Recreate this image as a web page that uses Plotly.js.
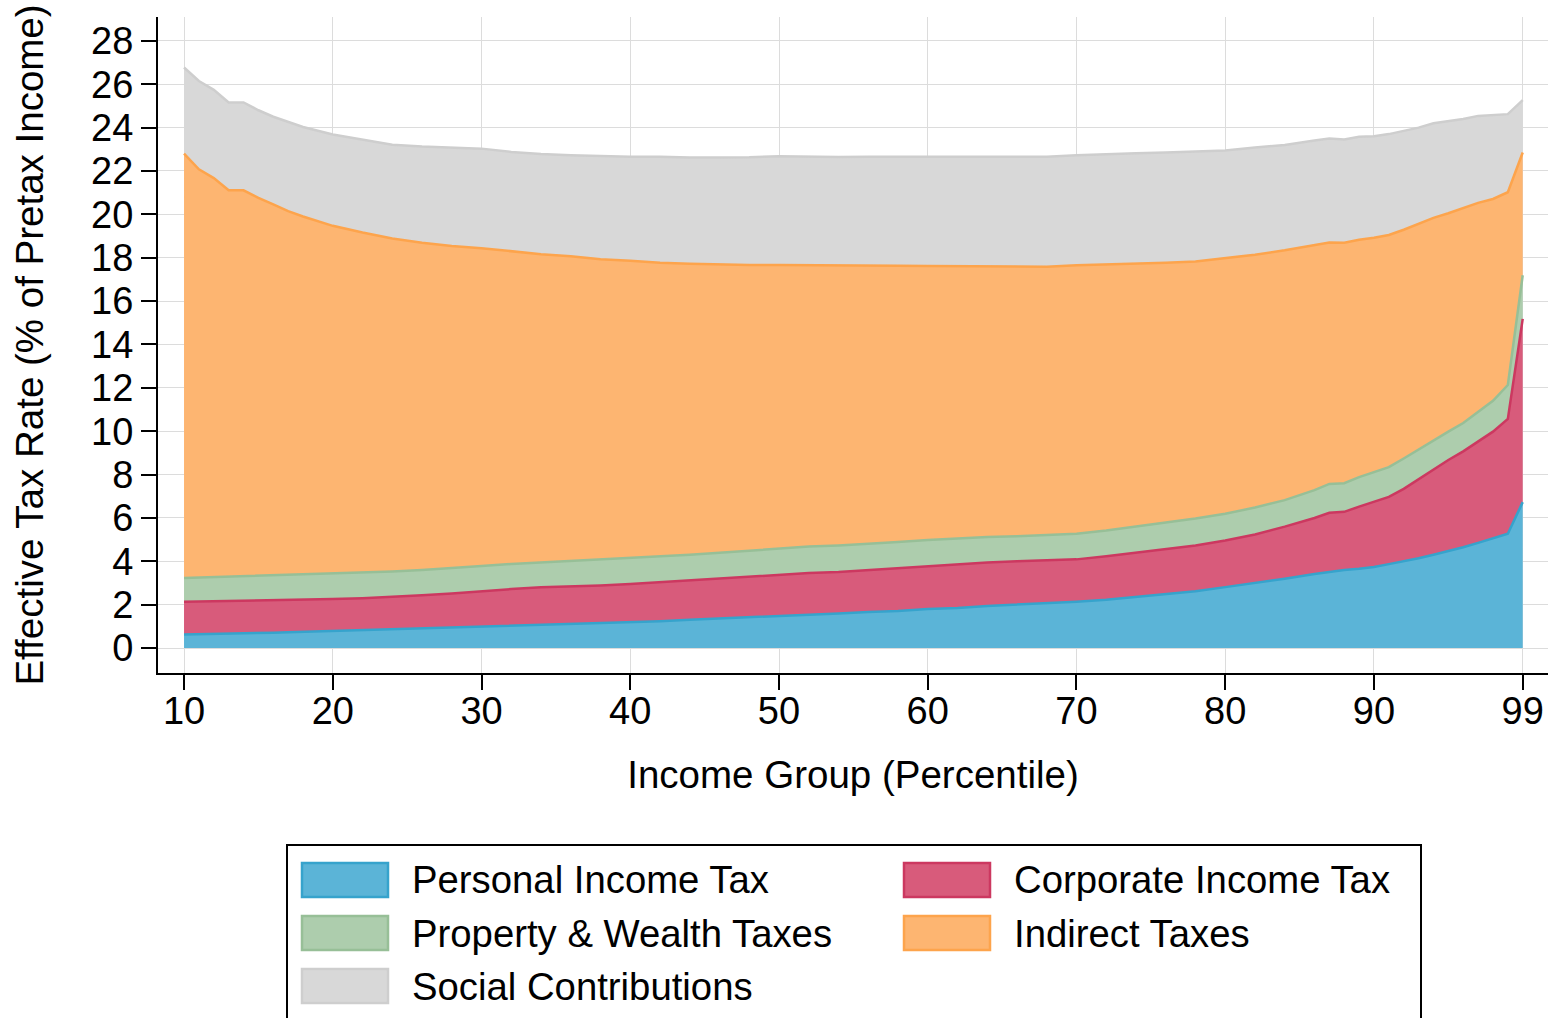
<!DOCTYPE html>
<html>
<head>
<meta charset="utf-8">
<script src="https://cdn.plot.ly/plotly-3.0.1.min.js"></script>
<style>
  html, body { margin: 0; padding: 0; background: #fff; }
  #chart { width: 1558px; height: 1018px; }
</style>
</head>
<body>
<div id="chart"></div>
<script>
// percentile position of each income group (last group drawn at the "99" tick)
const pct = [10, 11, 12, 13, 14, 15, 16, 17, 18, 20, 22, 24, 26, 28, 30, 32, 34, 36, 38, 40,
  42, 44, 46, 48, 50, 52, 54, 56, 58, 60, 62, 64, 66, 68, 70, 72, 74, 76, 78, 80,
  82, 84, 86, 87, 88, 89, 90, 91, 92, 93, 94, 95, 96, 97, 98, 99, 100];

const personalIncome = [0.62, 0.63, 0.64, 0.66, 0.67, 0.70, 0.71, 0.73, 0.75, 0.78, 0.82, 0.86, 0.90, 0.95, 1.00, 1.03, 1.06, 1.09, 1.15, 1.18,
  1.24, 1.31, 1.36, 1.41, 1.48, 1.54, 1.59, 1.66, 1.71, 1.80, 1.85, 1.94, 2.00, 2.06, 2.14, 2.23, 2.35, 2.47, 2.62, 2.81,
  2.99, 3.20, 3.42, 3.52, 3.60, 3.66, 3.74, 3.87, 4.00, 4.14, 4.30, 4.47, 4.65, 4.85, 5.05, 5.27, 6.73];

const corporateIncome = [1.52, 1.52, 1.53, 1.52, 1.52, 1.50, 1.50, 1.49, 1.49, 1.48, 1.48, 1.50, 1.54, 1.57, 1.63, 1.69, 1.74, 1.74, 1.74, 1.77,
  1.80, 1.80, 1.85, 1.89, 1.91, 1.92, 1.92, 1.94, 1.96, 1.98, 2.01, 2.01, 2.00, 1.98, 1.95, 2.00, 2.04, 2.09, 2.11, 2.15,
  2.25, 2.40, 2.58, 2.72, 2.68, 2.86, 2.99, 3.10, 3.34, 3.65, 3.95, 4.20, 4.42, 4.68, 4.93, 5.30, 8.45];

const propertyWealth = [1.09, 1.10, 1.10, 1.11, 1.11, 1.13, 1.14, 1.15, 1.16, 1.19, 1.17, 1.17, 1.16, 1.16, 1.15, 1.16, 1.15, 1.17, 1.20, 1.20,
  1.20, 1.19, 1.18, 1.18, 1.20, 1.22, 1.22, 1.20, 1.22, 1.20, 1.20, 1.17, 1.16, 1.16, 1.18, 1.19, 1.21, 1.22, 1.24, 1.23,
  1.24, 1.22, 1.28, 1.33, 1.32, 1.36, 1.37, 1.37, 1.40, 1.37, 1.33, 1.31, 1.31, 1.36, 1.42, 1.56, 2.01];

const indirect = [19.57, 18.83, 18.40, 17.82, 17.81, 17.43, 17.11, 16.78, 16.50, 16.02, 15.69, 15.36, 15.09, 14.86, 14.66, 14.42, 14.21, 14.07, 13.84, 13.71,
  13.53, 13.42, 13.29, 13.18, 13.07, 12.98, 12.90, 12.83, 12.74, 12.64, 12.55, 12.49, 12.44, 12.38, 12.38, 12.26, 12.12, 11.99, 11.86, 11.78,
  11.66, 11.52, 11.28, 11.13, 11.09, 10.95, 10.82, 10.71, 10.55, 10.40, 10.26, 10.07, 9.91, 9.64, 9.31, 8.89, 5.66];

const socialContrib = [3.97, 4.07, 4.07, 4.05, 4.05, 4.04, 4.04, 4.11, 4.13, 4.21, 4.28, 4.32, 4.44, 4.53, 4.59, 4.58, 4.62, 4.65, 4.75, 4.80,
  4.89, 4.90, 4.94, 4.97, 5.02, 5.00, 5.01, 5.03, 5.03, 5.06, 5.07, 5.05, 5.06, 5.08, 5.07, 5.10, 5.10, 5.08, 5.05, 4.97,
  4.94, 4.86, 4.84, 4.80, 4.76, 4.75, 4.68, 4.65, 4.56, 4.44, 4.36, 4.25, 4.11, 4.01, 3.87, 3.60, 2.42];

const xTickVals = [10, 20, 30, 40, 50, 60, 70, 80, 90, 100];
const xTickText = ['10', '20', '30', '40', '50', '60', '70', '80', '90', '99'];

const seriesNames = ['Personal Income Tax', 'Corporate Income Tax', 'Property & Wealth Taxes', 'Indirect Taxes', 'Social Contributions'];
const seriesValues = [personalIncome, corporateIncome, propertyWealth, indirect, socialContrib];
const fillColors = ['#5bb4d7', '#d85b7b', '#adcdad', '#fdb571', '#d8d8d8'];
const lineColors = ['#36a3cc', '#cc3860', '#97bf97', '#fda44c', '#cecece'];

const FONT = 'Liberation Sans, Arial, sans-serif';

const data = seriesValues.map((vals, i) => ({
  x: pct,
  y: vals,
  name: seriesNames[i],
  type: 'scatter',
  mode: 'lines',
  stackgroup: 'taxes',
  fillcolor: fillColors[i],
  line: {color: lineColors[i], width: 2.5},
  hoverinfo: 'x+y+name'
}));

// plot area in pixels, used to place the hand drawn legend below it
const plotLeft = 158, plotWidth = 1390, plotBottom = 673, plotHeight = 656;
const px = (p) => (p - plotLeft) / plotWidth;
const py = (p) => (plotBottom - p) / plotHeight;

const shapes = [{
  type: 'rect', xref: 'paper', yref: 'paper',
  x0: px(287), x1: px(1421), y0: py(845), y1: py(1040),
  line: {color: '#000', width: 2}, fillcolor: 'rgba(0,0,0,0)'
}];
const annotations = [];

// legend order: two columns, three rows
const legendSlots = [[0, 0], [1, 0], [0, 1], [1, 1], [0, 2]];
const colSwatch = [302, 904], colText = [410, 1012], rowMid = [880, 933, 986];
legendSlots.forEach(([c, r], i) => {
  shapes.push({
    type: 'rect', xref: 'paper', yref: 'paper',
    x0: px(colSwatch[c]), x1: px(colSwatch[c] + 86),
    y0: py(rowMid[r] - 17), y1: py(rowMid[r] + 17),
    fillcolor: fillColors[i], line: {color: lineColors[i], width: 2.5}
  });
  annotations.push({
    xref: 'paper', yref: 'paper', x: px(colText[c]), y: py(rowMid[r]),
    xanchor: 'left', yanchor: 'middle', showarrow: false,
    text: seriesNames[i], font: {family: FONT, size: 38.3, color: '#000'}
  });
});

const layout = {
  width: 1558,
  height: 1018,
  margin: {l: plotLeft, r: 1558 - plotLeft - plotWidth, t: 17, b: 1018 - plotBottom},
  paper_bgcolor: '#fff',
  plot_bgcolor: '#fff',
  showlegend: false,
  font: {family: FONT, size: 38, color: '#000'},
  xaxis: {
    range: [8.25, 101.7],
    tickmode: 'array',
    tickvals: xTickVals,
    ticktext: xTickText,
    ticks: 'outside',
    ticklen: 15,
    tickwidth: 1.5,
    tickcolor: '#000',
    tickfont: {size: 38},
    ticklabelstandoff: -12,
    showline: true,
    linecolor: '#000',
    linewidth: 2,
    showgrid: true,
    gridcolor: '#dcdcdc',
    gridwidth: 1,
    zeroline: false,
    title: {text: 'Income Group (Percentile)', font: {size: 38.5}, standoff: 30}
  },
  yaxis: {
    range: [-1.15, 29.1],
    tick0: 0,
    dtick: 2,
    ticks: 'outside',
    ticklen: 15,
    tickwidth: 1.5,
    tickcolor: '#000',
    tickfont: {size: 38},
    showline: true,
    linecolor: '#000',
    linewidth: 2,
    showgrid: true,
    gridcolor: '#dcdcdc',
    gridwidth: 1,
    zeroline: false,
    title: {text: 'Effective Tax Rate (% of Pretax Income)', font: {size: 38.5}, standoff: 36}
  },
  shapes: shapes,
  annotations: annotations
};

Plotly.newPlot('chart', data, layout, {displayModeBar: false});
</script>
</body>
</html>
